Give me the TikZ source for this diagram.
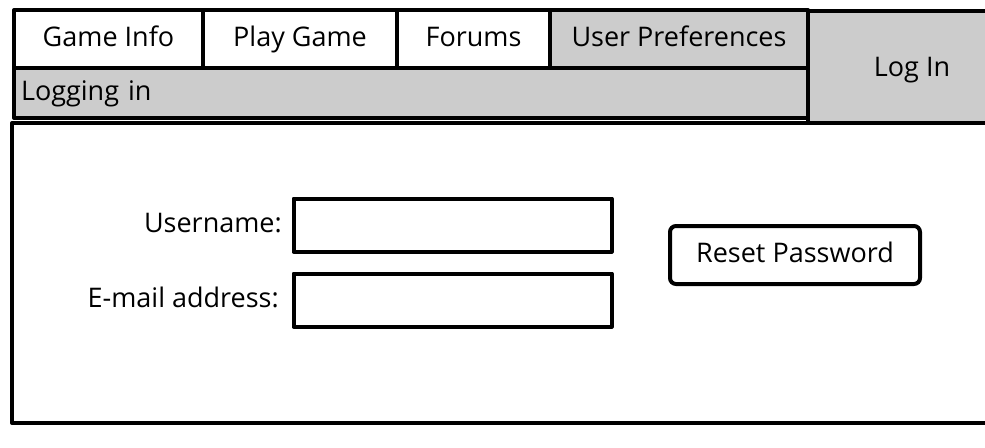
\documentclass[tikz,border=0pt]{standalone}
\usepackage{fontspec}
\setmainfont{Open Sans}

\begin{document}
\begin{tikzpicture}[x=1pt,y=-1pt]
        \tikzstyle{sketch}=[line width=4pt,line join=round]
        \tikzstyle{txt}=[font=\fontsize{27}{32}\selectfont,text height=20pt,text depth=6pt]
        \tikzstyle{tab}=[sketch,txt,draw,fill=white,minimum height=58pt,inner sep=0pt]
        \tikzstyle{field}=[sketch,draw,fill=white,minimum width=318pt,minimum height=53pt,inner sep=0pt]
        \tikzstyle{label}=[txt,anchor=east,inner sep=0pt]
  \useasboundingbox (0,0) rectangle (985,447);
  % log in corner and main panel
  \fill[black!20] (808,11) rectangle (990,123);
  \draw[sketch] (990,11) -- (808,11) -- (808,123);
  \draw[sketch] (990,123) -- (12,123) -- (12,423) -- (990,423);
  \node[txt] (login) at (912,69) {Log In};
  % tabs
  \node[tab,minimum width=189pt] (T_1) at (108.5,39) {Game Info};
  \node[tab,minimum width=194pt] (T_2) at (300,39) {Play Game};
  \node[tab,minimum width=153pt] (T_3) at (473.5,39) {Forums};
  \node[tab,fill=black!20,minimum width=258pt] (T_4) at (679,39) {User Preferences};
  \node[tab,fill=black!20,minimum width=794pt,minimum height=50pt,
    text width=780pt,align=left] (bar) at (411,93) {Logging in};
  % form
  \node[field] (user) at (452.5,225) {};
  \node[field] (mail) at (452.5,300) {};
  \node[label] (userlbl) at (282,225) {Username:};
  \node[label] (maillbl) at (279,300) {E-mail address:};
  \node[sketch,txt,draw,rounded corners=6pt,minimum width=250pt,minimum height=58pt] (reset) at (795,255) {Reset Password};
\end{tikzpicture}
\end{document}
